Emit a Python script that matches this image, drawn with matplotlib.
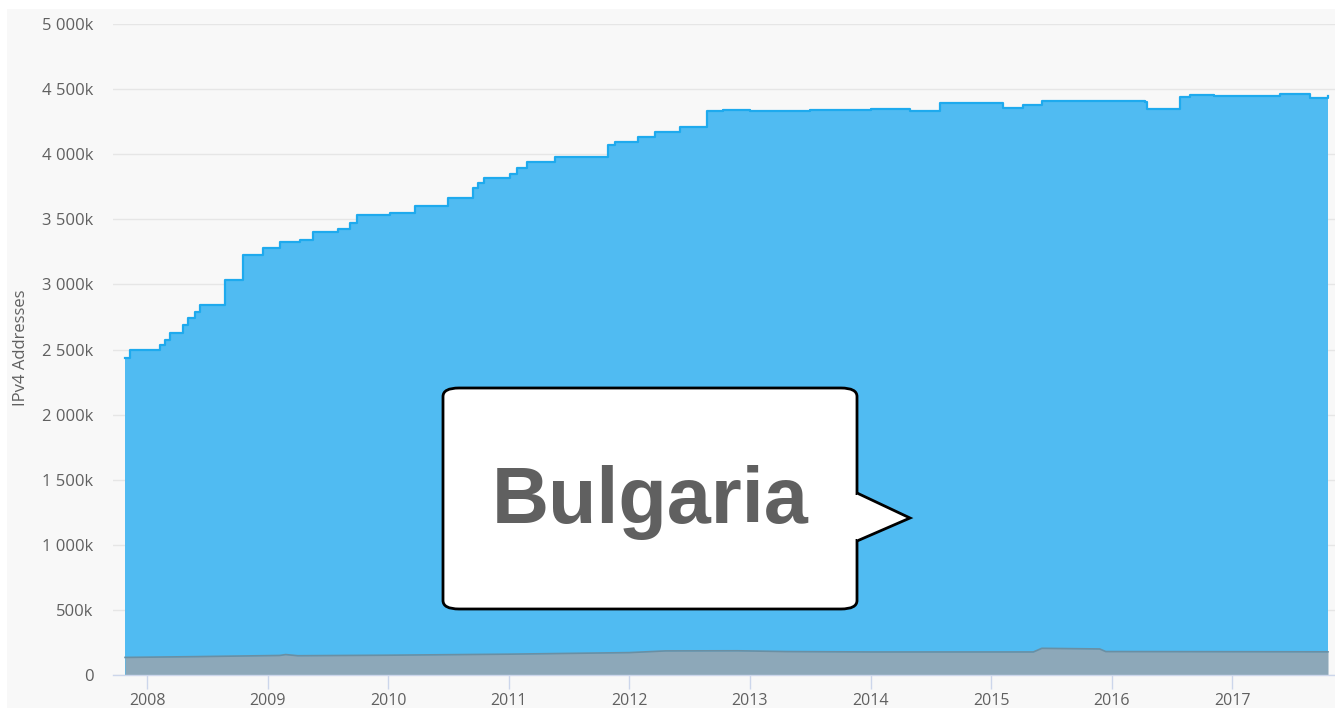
import matplotlib
matplotlib.use("Agg")
import matplotlib.pyplot as plt
from matplotlib.patches import Rectangle, FancyBboxPatch, Polygon
from matplotlib.ticker import FuncFormatter

# ---- data (fractional years, addresses in thousands) ----
total_years = [2007.818, 2007.859, 2008.108, 2008.149, 2008.191, 2008.299, 2008.340,
               2008.398, 2008.439, 2008.647, 2008.796, 2008.962, 2009.103, 2009.269,
               2009.376, 2009.584, 2009.683, 2009.741, 2010.015, 2010.222, 2010.496,
               2010.703, 2010.745, 2010.794, 2011.010, 2011.068, 2011.151, 2011.383,
               2011.823, 2011.881, 2012.071, 2012.212, 2012.420, 2012.643, 2012.78,
               2013.0, 2013.5, 2014.0, 2014.327, 2014.575, 2014.75, 2015.098, 2015.264,
               2015.421, 2015.7, 2016.275, 2016.292, 2016.566, 2016.65, 2016.850,
               2017.1, 2017.395, 2017.643, 2017.793]
total_values = [2435, 2496, 2535, 2573, 2627, 2688, 2742,
                2788, 2842, 3034, 3226, 3280, 3326, 3341,
                3402, 3426, 3472, 3533, 3548, 3602, 3664,
                3740, 3779, 3817, 3848, 3894, 3940, 3978,
                4071, 4094, 4132, 4171, 4209, 4330, 4340,
                4335, 4338, 4345, 4335, 4395, 4390, 4355, 4380,
                4405, 4412, 4401, 4347, 4439, 4452, 4445,
                4447, 4462, 4431, 4447]

low_years = [2007.818, 2008.40, 2009.10, 2009.15, 2009.25, 2010.0, 2011.0, 2012.0,
             2012.3, 2012.9, 2013.3, 2014.0, 2015.35, 2015.42, 2015.90, 2015.95, 2017.793]
low_values = [135, 141, 150, 157, 148, 152, 160, 172,
              185, 186, 180, 177, 177, 205, 200, 180, 178]

year_ticks = list(range(2008, 2018))
y_ticks = [0, 500, 1000, 1500, 2000, 2500, 3000, 3500, 4000, 4500, 5000]
callout_text = "Bulgaria"
y_label = "IPv4 Addresses"

# ---- figure ----
W, H = 1335, 708
fig = plt.figure(figsize=(W / 100, H / 100), dpi=100)
fig.patch.set_facecolor("white")
fig.patches.append(Rectangle((7 / W, 0), 1 - 7 / W, 1 - 9 / H, transform=fig.transFigure,
                             facecolor="#f8f8f8", edgecolor="none", zorder=-10))

ax = fig.add_axes([113 / W, (H - 675) / H, (W - 113) / W, (675 - 24) / H])
ax.set_facecolor("none")

ax.fill_between(total_years, 0, total_values, step="post", color="#50bbf2", lw=0, zorder=2)
ax.step(total_years, total_values, where="post", color="#1eaaee", lw=1.6, zorder=3)
ax.fill_between(low_years, 0, low_values, color="#8da8b9", lw=0, zorder=4)
ax.plot(low_years, low_values, color="#6a8fa3", lw=1.2, zorder=5)

ax.set_xlim(2007.718, 2017.851)
ax.set_ylim(0, 5000)
ax.set_yticks(y_ticks)
ax.yaxis.set_major_formatter(FuncFormatter(
    lambda v, p: "0" if v == 0 else ("{:,}".format(int(v)).replace(",", " ") + "k")))
ax.set_xticks(year_ticks)
ax.set_xticklabels([str(y) for y in year_ticks])

ax.grid(axis="y", color="#e6e6e6", lw=1, zorder=1)
ax.set_axisbelow(True)
for s in ["top", "right", "left"]:
    ax.spines[s].set_visible(False)
ax.spines["bottom"].set_color("#ccd6eb")
ax.spines["bottom"].set_linewidth(1)
ax.spines["bottom"].set_zorder(6)
ax.tick_params(axis="y", length=0, pad=14, labelsize=12, labelcolor="#606060")
ax.tick_params(axis="x", length=10, width=1, color="#ccd6eb", pad=3, labelsize=11.5,
               labelcolor="#606060")
for lab in ax.get_xticklabels() + ax.get_yticklabels():
    lab.set_fontfamily("Open Sans")

fig.text(21 / W, 1 - 348 / H, y_label, rotation=90, ha="center", va="center",
         fontsize=12, color="#606060", family="Open Sans")

# ---- callout ----
bx0, by0, bx1, by1 = 443, 388, 857, 609
box = FancyBboxPatch((bx0 / W, 1 - by1 / H), (bx1 - bx0) / W, (by1 - by0) / H,
                     boxstyle="round,pad=0,rounding_size=0.012", transform=fig.transFigure,
                     facecolor="white", edgecolor="black", lw=2, zorder=20)
fig.patches.append(box)
tri = Polygon([(bx1 / W, 1 - 493 / H), (910 / W, 1 - 518 / H), (bx1 / W, 1 - 541 / H)],
              closed=False, transform=fig.transFigure, facecolor="white",
              edgecolor="black", lw=2, zorder=21)
fig.patches.append(tri)
tri2 = Polygon([((bx1 - 2) / W, 1 - 495 / H), ((bx1 - 2) / W, 1 - 539 / H),
                ((bx1 + 1) / W, 1 - 539 / H), ((bx1 + 1) / W, 1 - 495 / H)],
               transform=fig.transFigure, facecolor="white", edgecolor="none", zorder=22)
fig.patches.append(tri2)
fig.text(650 / W, 1 - 502 / H, callout_text, ha="center", va="center", fontsize=57,
         fontweight="bold", color="#606060", family="Liberation Sans", zorder=30)

fig.savefig("out.png", dpi=100, facecolor="white")
